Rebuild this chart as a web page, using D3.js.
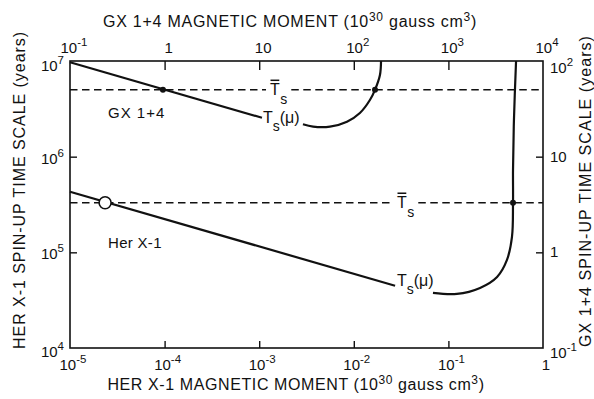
<!DOCTYPE html>
<html>
<head>
<meta charset="utf-8">
<script src="https://cdn.jsdelivr.net/npm/d3@7"></script>
<style>
  body { margin: 0; background: #fff; }
  svg { display: block; }
  text { font-family: "Liberation Sans", Arial, sans-serif; fill: #111; }
</style>
</head>
<body>
<svg id="chart" width="594" height="399"></svg>
<script>
// Axis decades
const herMomentTicks = [1e-5, 1e-4, 1e-3, 1e-2, 1e-1, 1];   // bottom, 10^30 gauss cm^3
const gxMomentTicks  = [1e-1, 1, 10, 1e2, 1e3, 1e4];       // top, 10^30 gauss cm^3
const herTimeTicks   = [1e4, 1e5, 1e6, 1e7];               // left, years
const gxTimeTicks    = [1e-1, 1, 10, 1e2];                 // right, years

// Her X-1: T_s(mu) [moment, years]; power-law branch and the turn-up branch
const herPowerLaw = [[1e-5, 4.3e5], [0.0273, 4.48e4]];
const herTurnUp = [
  [0.0687, 3.77e4], [0.123, 3.68e4], [0.216, 4.25e4], [0.327, 5.53e4],
  [0.416, 8.34e4], [0.470, 1.45e5], [0.482, 3.3e5], [0.482, 7.26e5],
  [0.493, 2.42e6], [0.519, 1e7]
];
const herMeanTs = 3.3e5;            // years
const herOpenPoint = [2.35e-5, 3.3e5];
const herSolidPoint = [0.482, 3.3e5];

// GX 1+4: T_s(mu) [moment, years]
const gxPowerLaw = [[0.1, 97], [10.7, 25.5]];
const gxTurnUp = [
  [29.0, 21.8], [37.1, 20.6], [56.0, 20.6], [84.7, 23.2], [116, 28.6],
  [148, 39.1], [167.5, 50], [189, 71.4], [194, 100]
];
const gxMeanTs = 50;                // years
const gxSolidPoints = [[0.96, 50], [167.5, 50]];

const svg = d3.select("#chart");
const L = 70, R = 543, T = 61, B = 348;

const x  = d3.scaleLog().domain([1e-5, 1]).range([L, R]);
const xT = d3.scaleLog().domain([1e-1, 1e4]).range([L, R]);
const y  = d3.scaleLog().domain([1e4, 1e7]).range([B, T]);
const yR = d3.scaleLog().domain([1e-1, 1e2]).range([B, T]);

const ink = "#111";

// inward ticks on all four sides
function ticks(axis, tx, ty) {
  const g = svg.append("g").attr("transform", `translate(${tx},${ty})`).call(axis);
  g.select(".domain").remove();
  g.selectAll(".tick line").attr("stroke", ink).attr("stroke-width", 1.4);
  g.selectAll(".tick text").remove();
}
const inner = a => a.slice(1, -1);
ticks(d3.axisBottom(x).tickValues(inner(herMomentTicks)).tickSize(-7), 0, B);
ticks(d3.axisTop(xT).tickValues(inner(gxMomentTicks)).tickSize(-9), 0, T);
ticks(d3.axisLeft(y).tickValues(inner(herTimeTicks)).tickSize(-7), L, 0);
ticks(d3.axisRight(yR).tickValues(inner(gxTimeTicks)).tickSize(-7), R, 0);

// frame
svg.append("rect").attr("x", L).attr("y", T).attr("width", R - L).attr("height", B - T)
  .attr("fill", "none").attr("stroke", ink).attr("stroke-width", 1.6);

// power-of-ten labels with superscript exponents
function powLabel(v, px, py, anchor) {
  const e = Math.round(Math.log10(v));
  const t = svg.append("text").attr("x", px).attr("y", py)
    .attr("text-anchor", anchor).attr("font-size", 15);
  if (e === 0) t.text("1");
  else if (e === 1) t.text("10");
  else {
    t.append("tspan").text("10");
    t.append("tspan").attr("dy", -7).attr("font-size", 11.5).text(String(e));
  }
  return t;
}
herMomentTicks.forEach(v => powLabel(v, x(v) + 3, 370, "middle"));
gxMomentTicks.forEach(v => powLabel(v, xT(v) + 4, 53, "middle"));
herTimeTicks.forEach((v, i) => powLabel(v, 64, y(v) + (i === herTimeTicks.length - 1 ? 10 : i === 0 ? 9 : 7), "end"));
gxTimeTicks.forEach((v, i) => powLabel(v, 550, yR(v) + (i === 0 ? 10 : i === gxTimeTicks.length - 1 ? 12 : 5), "start"));

// axis titles
function title(parts, px, py, rotate, target) {
  const t = svg.append("text").attr("font-size", 16)
    .attr("text-anchor", "middle")
    .attr("transform", `translate(${px},${py}) rotate(${rotate})`);
  parts.forEach(p => {
    const s = t.append("tspan").text(p.text);
    if (p.sup) { s.attr("dy", -6).attr("font-size", 12); }
    if (p.down) { s.attr("dy", 6); }
  });
  const len = t.node().getComputedTextLength();
  const n = t.text().length;
  t.attr("letter-spacing", ((target - len) / n).toFixed(2));
  return t;
}
const unitParts = [
  { text: " (10" }, { text: "30", sup: true }, { text: " gauss cm", down: true },
  { text: "3", sup: true }, { text: ")", down: true }
];
title([{ text: "GX 1+4 MAGNETIC MOMENT" }, ...unitParts], 290, 27, 0, 374);
title([{ text: "HER X-1 MAGNETIC MOMENT" }, ...unitParts], 296, 390, 0, 377);
title([{ text: "HER X-1 SPIN-UP TIME SCALE (years)" }], 25, 190, -90, 318);
title([{ text: "GX 1+4 SPIN-UP TIME SCALE (years)" }], 591, 191, -90, 312);

// curves
const lineHer = d3.line().x(d => x(d[0])).y(d => y(d[1]));
const lineGx  = d3.line().x(d => xT(d[0])).y(d => yR(d[1]));
const smooth = d3.curveCatmullRom.alpha(0.5);

// mean spin-up levels (dashed), split around their labels
function meanLevel(py, labelX) {
  const g = svg.append("g");
  const t = g.append("text").attr("x", labelX).attr("y", py + 5).attr("font-size", 16).text("T");
  const tw = t.node().getComputedTextLength();
  g.append("line").attr("x1", labelX + 0.5).attr("x2", labelX + tw - 0.5)
    .attr("y1", py - 9.5).attr("y2", py - 9.5).attr("stroke", ink).attr("stroke-width", 1.5);
  g.append("text").attr("x", labelX + tw + 0.5).attr("y", py + 14).attr("font-size", 14).text("s");
  const bb = g.node().getBBox();
  [[L, bb.x - 4], [bb.x + bb.width + 4, R]].forEach(([a, b]) =>
    svg.append("line").attr("x1", a).attr("x2", b).attr("y1", py).attr("y2", py)
      .attr("stroke", ink).attr("stroke-width", 1.6).attr("stroke-dasharray", "7.5,4.5"));
}
meanLevel(yR(gxMeanTs), 270);
meanLevel(y(herMeanTs), 397);

[[herPowerLaw, lineHer, null], [herTurnUp, lineHer, smooth],
 [gxPowerLaw, lineGx, null], [gxTurnUp, lineGx, smooth]].forEach(([d, ln, c]) => {
  const l = c ? ln.curve(c) : ln.curve(d3.curveLinear);
  svg.append("path").attr("d", l(d)).attr("fill", "none")
    .attr("stroke", ink).attr("stroke-width", 2.2).attr("stroke-linejoin", "round");
});

// T_s(mu) labels
function tsLabel(px, py) {
  const t = svg.append("text").attr("x", px).attr("y", py).attr("font-size", 16);
  t.append("tspan").text("T");
  t.append("tspan").attr("dy", 8).attr("font-size", 14).text("s");
  t.append("tspan").attr("dy", -8).text("(\u03BC)");
}
tsLabel(263, 123);
tsLabel(397, 286);

// crossing points
gxSolidPoints.forEach(p => svg.append("circle").attr("cx", xT(p[0])).attr("cy", yR(p[1]))
  .attr("r", 3).attr("fill", ink));
svg.append("circle").attr("cx", x(herSolidPoint[0])).attr("cy", y(herSolidPoint[1]))
  .attr("r", 3).attr("fill", ink);
svg.append("circle").attr("cx", x(herOpenPoint[0])).attr("cy", y(herOpenPoint[1]))
  .attr("r", 6).attr("fill", "#fff").attr("stroke", ink).attr("stroke-width", 1.6);

// source names
svg.append("text").attr("x", 108).attr("y", 118).attr("font-size", 15)
  .attr("letter-spacing", 1).text("GX 1+4");
svg.append("text").attr("x", 108).attr("y", 248).attr("font-size", 15)
  .attr("letter-spacing", 0.3).text("Her X-1");
</script>
</body>
</html>
